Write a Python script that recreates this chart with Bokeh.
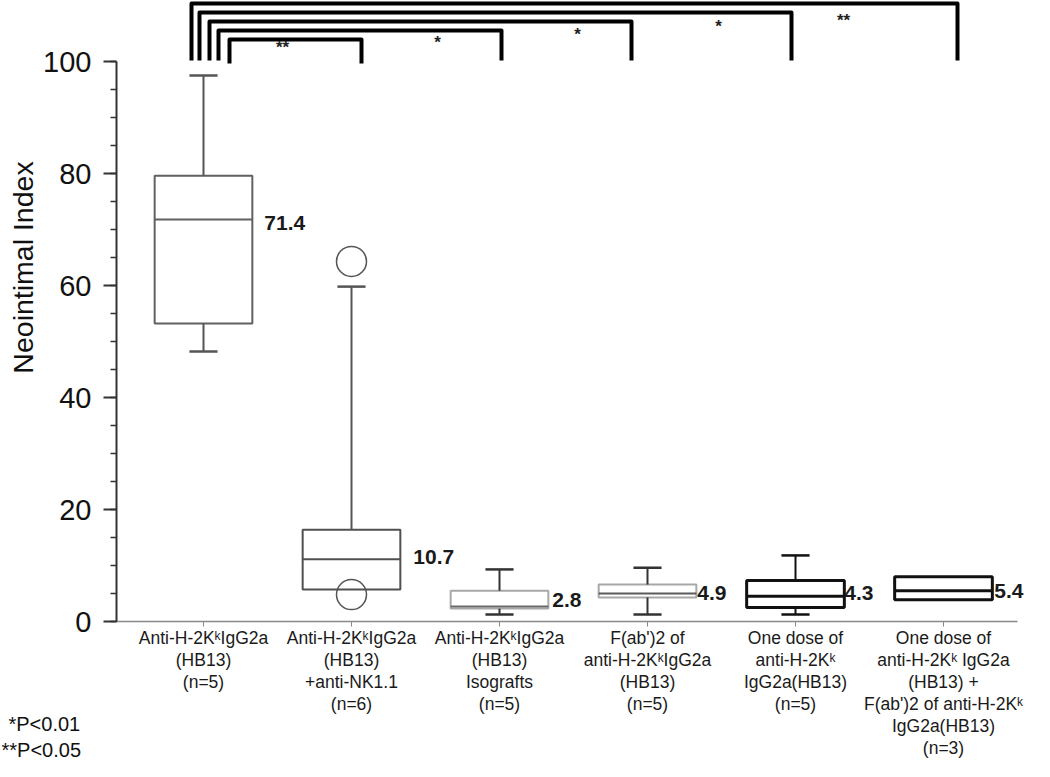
import math
from bokeh.plotting import figure
from bokeh.models import Range1d, FixedTicker, ColumnDataSource, LinearAxis
from bokeh.core.properties import value
from bokeh.embed import file_html
from bokeh.resources import INLINE

# ---------------- data ----------------
categories = [
    ["Anti-H-2KᵏIgG2a", "(HB13)", "(n=5)"],
    ["Anti-H-2KᵏIgG2a", "(HB13)", "+anti-NK1.1", "(n=6)"],
    ["Anti-H-2KᵏIgG2a", "(HB13)", "Isografts", "(n=5)"],
    ["F(ab')2 of", "anti-H-2KᵏIgG2a", "(HB13)", "(n=5)"],
    ["One dose of", "anti-H-2Kᵏ", "IgG2a(HB13)", "(n=5)"],
    ["One dose of", "anti-H-2Kᵏ IgG2a", "(HB13) +", "F(ab')2 of anti-H-2Kᵏ", "IgG2a(HB13)", "(n=3)"],
]
q1 = [53.2, 5.7, 2.3, 4.3, 2.5, 3.9]
medians = [71.8, 11.1, 2.7, 5.0, 4.5, 5.5]
q3 = [79.6, 16.4, 5.5, 6.6, 7.3, 8.0]
whisker_lo = [48.2, float("nan"), 1.25, 1.25, 1.25, float("nan")]
whisker_hi = [97.5, 59.8, 9.3, 9.6, 11.8, float("nan")]
outlier_group = [1, 1]
outlier_value = [64.3, 4.8]
median_labels = ["71.4", "10.7", "2.8", "4.9", "4.3", "5.4"]
compare_to = [1, 2, 3, 4, 5]
compare_stars = ["**", "*", "*", "*", "**"]
sig_notes = ["*P<0.01", "**P<0.05"]
y_title = "Neointimal Index"
y_ticks = [0, 20, 40, 60, 80, 100]
y_minor = list(range(0, 101, 5))

FONT = "Liberation Sans"

# ---------------- layout helpers (pixel -> data) ----------------
X0_PX, XSTEP = 203.0, 148.0
Y0_PX, YSTEP = 621.0, 5.6
def dx(px):
    return (px - X0_PX) / XSTEP
def dy(py):
    return (Y0_PX - py) / YSTEP

W, H = 1034, 761
AX_LEFT, AX_RIGHT = 116, 1017

p = figure(width=W, height=H, output_backend="svg", toolbar_location=None,
           x_range=Range1d(dx(0), dx(W)), y_range=Range1d(dy(H), dy(0)),
           x_axis_type=None, y_axis_type=None,
           min_border_left=0, min_border_right=0, min_border_top=0, min_border_bottom=0)
p.outline_line_color = None
p.grid.visible = False
p.background_fill_color = "white"
p.border_fill_color = "white"

# y axis (fixed inside the frame)
ya = LinearAxis(fixed_location=dx(AX_LEFT), bounds=(0, 100),
                ticker=FixedTicker(ticks=y_ticks, minor_ticks=y_minor))
ya.axis_line_color = "#333333"
ya.axis_line_width = 2
ya.major_tick_line_color = "#333333"
ya.major_tick_line_width = 2
ya.major_tick_out = 13
ya.major_tick_in = 0
ya.minor_tick_line_color = "#333333"
ya.minor_tick_line_width = 1.5
ya.minor_tick_out = 6
ya.minor_tick_in = 0
ya.major_label_standoff = 12
ya.major_label_text_font = FONT
ya.major_label_text_font_size = "29px"
ya.major_label_text_color = "#111111"
p.add_layout(ya, "left")

# x axis (fixed at y = 0) with multi-line category labels
idx = list(range(len(categories)))
xa = LinearAxis(fixed_location=0, bounds=(dx(AX_LEFT), dx(AX_RIGHT)),
                ticker=FixedTicker(ticks=idx))
xa.major_label_overrides = {i: "\n".join(lines) for i, lines in enumerate(categories)}
xa.major_label_text_font = FONT
xa.major_label_text_font_size = "17.5px"
xa.major_label_text_line_height = 1.1
xa.major_label_text_color = "#1a1a1a"
xa.major_label_standoff = 1
xa.axis_line_color = "#888888"
xa.axis_line_width = 1.5
xa.major_tick_line_color = "#888888"
xa.major_tick_out = 5
xa.major_tick_in = 0
xa.minor_tick_out = 0
xa.minor_tick_in = 0
p.add_layout(xa, "below")

# ---------------- boxes ----------------
BOX_W = 0.66
CAP_W = 0.19
box_line = ["#606060", "#505050", "#a8a8a8", "#a8a8a8", "#111111", "#111111"]
med_line = ["#606060", "#505050", "#6a6a6a", "#5a5a5a", "#111111", "#111111"]
whisk_line = ["#555555", "#555555", "#333333", "#333333", "#111111", "#111111"]
box_lw = [2, 2, 2, 2, 3, 3]

box_src = ColumnDataSource(dict(x=idx, top=q3, bottom=q1, lc=box_line, lw=box_lw))
p.vbar(x="x", width=BOX_W, top="top", bottom="bottom", source=box_src,
       fill_color="white", line_color="lc", line_width="lw")

med_src = ColumnDataSource(dict(x0=[i - BOX_W / 2 for i in idx], x1=[i + BOX_W / 2 for i in idx],
                                y=medians, lc=med_line, lw=box_lw))
p.segment(x0="x0", y0="y", x1="x1", y1="y", source=med_src, line_color="lc", line_width="lw")

sx0, sy0, sx1, sy1, sc = [], [], [], [], []
cx0, cx1, cy, cc = [], [], [], []
for i in idx:
    for lo_hi, q in ((whisker_hi[i], q3[i]), (whisker_lo[i], q1[i])):
        if not math.isnan(lo_hi):
            sx0.append(i); sy0.append(q); sx1.append(i); sy1.append(lo_hi); sc.append(whisk_line[i])
            cx0.append(i - CAP_W / 2); cx1.append(i + CAP_W / 2); cy.append(lo_hi); cc.append(whisk_line[i])
p.segment(x0=sx0, y0=sy0, x1=sx1, y1=sy1, line_color=sc, line_width=2)
p.segment(x0=cx0, y0=cy, x1=cx1, y1=cy, line_color=cc, line_width=2.5)

p.scatter(x=outlier_group, y=outlier_value, marker="circle", size=30,
          fill_color=None, line_color="#555555", line_width=1.5)

lab_dx = [12, 13, 4, 1, 0, 2]
lab_dy = [4, -2, -6, -1, -3, 0]
p.text(x=[i + BOX_W / 2 for i in idx], y=medians, text=median_labels,
       x_offset=lab_dx, y_offset=lab_dy,
       text_font=value(FONT), text_font_size="21px", text_font_style="bold",
       text_color="#1a1a1a", text_align="left", text_baseline="middle")

# ---------------- significance brackets ----------------
br_left_px = [229, 218, 209, 199, 191]
br_right_off_px = [10, 2, -16, -4, 14]
br_level_px = [39, 30, 21, 12, 3]
br_bottom_px = [63, 60, 60, 60, 60]
xs, ys = [], []
for k, tgt in enumerate(compare_to):
    xl = dx(br_left_px[k])
    xr = tgt + br_right_off_px[k] / XSTEP
    yl = dy(br_level_px[k]); yb = dy(br_bottom_px[k])
    xs.append([xl, xl, xr, xr]); ys.append([yb, yl, yl, yb])
p.multi_line(xs=xs, ys=ys, line_color="black", line_width=4, line_join="round")

star_px_x = [282, 437, 577, 718, 843]
star_px_y = [47, 42, 34, 26, 20]
p.text(x=[dx(v) for v in star_px_x], y=[dy(v) for v in star_px_y], text=compare_stars,
       text_font=value(FONT), text_font_size="17px", text_font_style="bold",
       text_color="#222222", text_align="center", text_baseline="middle")

# y axis title
p.text(x=[dx(22)], y=[dy(267)], text=[y_title], angle=math.pi / 2,
       text_font=value(FONT), text_font_size="28.5px", text_color="#111111",
       text_align="center", text_baseline="middle")

# p-value notes
p.text(x=[dx(8), dx(1)], y=[dy(723), dy(749)], text=sig_notes,
       text_font=value(FONT), text_font_size="20px", text_color="#111111",
       text_align="left", text_baseline="middle")

open("out.html", "w").write(file_html(p, INLINE))
